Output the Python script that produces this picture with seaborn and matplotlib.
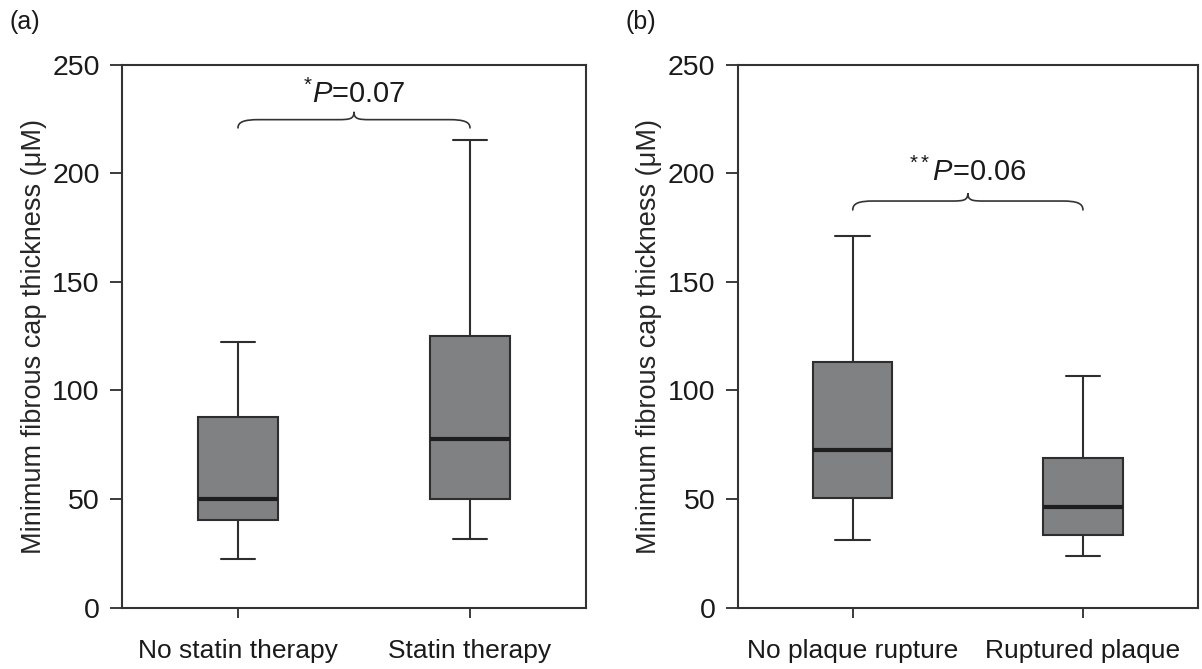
import numpy as np
import pandas as pd
import matplotlib
matplotlib.use("Agg")
import matplotlib.pyplot as plt
import seaborn as sns
from matplotlib.path import Path
from matplotlib.patches import PathPatch

# ---- data (five-number summaries) ----
groups_a = ["No statin therapy", "Statin therapy"]
no_statin = [22.2, 40.3, 50.0, 87.9, 122.3]
statin = [31.6, 50.0, 77.6, 125.1, 215.4]

groups_b = ["No plaque rupture", "Ruptured plaque"]
no_rupture = [31.1, 50.3, 72.4, 113.0, 171.3]
ruptured = [23.9, 33.3, 46.2, 68.9, 106.7]

yticks = [0, 50, 100, 150, 200, 250]
ylabel = "Minimum fibrous cap thickness (μM)"
panel_labels = ["(a)", "(b)"]
p_texts = [r"$^{*}\mathit{P}$=0.07", r"$^{**}\mathit{P}$=0.06"]
brace_levels = [(221, 224.8, 228.4, 236.5), (183.2, 187.3, 191.0, 200.5)]

sns.set_style("ticks")
plt.rcParams["font.family"] = ["Liberation Sans", "DejaVu Sans"]
plt.rcParams["mathtext.fontset"] = "custom"
plt.rcParams["mathtext.rm"] = "Liberation Sans"
plt.rcParams["mathtext.it"] = "Liberation Sans:italic"
plt.rcParams["text.color"] = "#1a1a1a"

fig = plt.figure(figsize=(12.02, 6.69), dpi=100)
ax_a = fig.add_axes([0.1015, 0.0919, 0.386, 0.811])
ax_b = fig.add_axes([0.6137, 0.0919, 0.383, 0.811])

box_color = "#808183"
line_color = "#2e2e2e"

def make_df(groups, series):
    rows = []
    for g, vals in zip(groups, series):
        for v in vals:
            rows.append({"group": g, "value": v})
    return pd.DataFrame(rows)

def brace(ax, x0, x1, y_end, y_flat, y_tip):
    xm = (x0 + x1) / 2
    d = 0.09
    d2 = 0.07
    verts = [
        (x0, y_end), (x0, y_flat - 1.0), (x0 + d * 0.3, y_flat), (x0 + d, y_flat),
        (xm - d2, y_flat),
        (xm - d2 * 0.25, y_flat), (xm, y_flat + 0.3), (xm, y_tip),
        (xm, y_flat + 0.3), (xm + d2 * 0.25, y_flat), (xm + d2, y_flat),
        (x1 - d, y_flat),
        (x1 - d * 0.3, y_flat), (x1, y_flat - 1.0), (x1, y_end),
    ]
    codes = [Path.MOVETO, Path.CURVE4, Path.CURVE4, Path.CURVE4,
             Path.LINETO,
             Path.CURVE4, Path.CURVE4, Path.CURVE4,
             Path.CURVE4, Path.CURVE4, Path.CURVE4,
             Path.LINETO,
             Path.CURVE4, Path.CURVE4, Path.CURVE4]
    ax.add_patch(PathPatch(Path(verts, codes), fill=False, lw=1.2,
                           edgecolor="#333333", capstyle="round"))

panels = [
    (ax_a, groups_a, [no_statin, statin]),
    (ax_b, groups_b, [no_rupture, ruptured]),
]

for i, (ax, groups, series) in enumerate(panels):
    df = make_df(groups, series)
    sns.boxplot(data=df, x="group", y="value", ax=ax, whis=(0, 100),
                width=0.345, color=box_color, saturation=1,
                linecolor=line_color, linewidth=1.5,
                medianprops=dict(linewidth=3.0, color="#1e1e1e"),
                capwidths=0.15)
    ax.set_xlim(-0.5, 1.5)
    ax.set_ylim(0, 250)
    ax.set_yticks(yticks)
    ax.set_xlabel("")
    ax.set_ylabel(ylabel, fontsize=19.5, labelpad=4)
    ax.tick_params(axis="y", direction="out", length=9, width=1.2,
                   pad=7, labelsize=20.5, colors="#1a1a1a")
    ax.tick_params(axis="x", direction="out", length=7, width=1.2,
                   pad=16, labelsize=19, colors="#1a1a1a")
    for s in ["left", "right", "top", "bottom"]:
        ax.spines[s].set_visible(True)
        ax.spines[s].set_linewidth(1.5)
        ax.spines[s].set_color("#333333")
    y_end, y_flat, y_tip, y_txt = brace_levels[i]
    brace(ax, 0, 1, y_end, y_flat, y_tip)
    ax.text(0.5, y_txt, p_texts[i], ha="center", va="center", fontsize=21)

fig.text(0.008, 0.967, panel_labels[0], fontsize=18, va="center", ha="left")
fig.text(0.52, 0.967, panel_labels[1], fontsize=18, va="center", ha="left")

fig.savefig("out.png", dpi=100)
